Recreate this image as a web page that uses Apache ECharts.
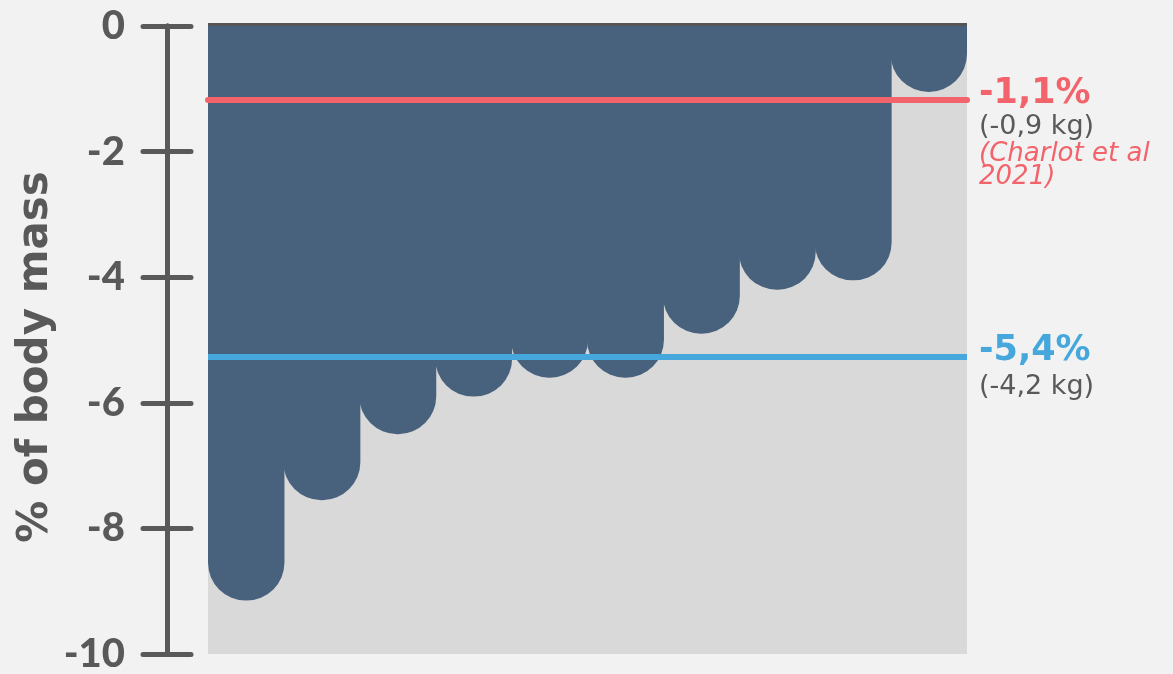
<!DOCTYPE html>
<html>
<head>
<meta charset="utf-8">
<script src="https://cdn.jsdelivr.net/npm/echarts@6/dist/echarts.min.js"></script>
<style>
html,body{margin:0;padding:0;background:#F2F2F2;}
#c{width:1173px;height:674px;}
</style>
</head>
<body>
<div id="c"></div>
<script>
const categories = ['1','2','3','4','5','6','7','8','9','10'];
const values = [-9.15, -7.55, -6.5, -5.9, -5.6, -5.6, -4.9, -4.2, -4.05, -1.05];
const yMin = -10, yMax = 0, yInterval = 2;
const refValues = [-1.18, -5.27];
const refMain = ['-1,1%', '-5,4%'];
const refKg = ['(-0,9 kg)', '(-4,2 kg)'];
const refSource = ['(Charlot et al\n2021)', ''];

const RED = '#F2636B', BLUE = '#45A7DB', GREY = '#595959', BAR = '#48627D';

const chart = echarts.init(document.getElementById('c'), null, {renderer: 'canvas'});
const yBase = {
  type: 'value', min: yMin, max: yMax, interval: yInterval, position: 'left',
  offset: 41, splitLine: {show: false},
  axisLine: {show: true, lineStyle: {color: GREY, width: 5}}
};
chart.setOption({
  animation: false,
  backgroundColor: '#F2F2F2',
  grid: {left: 208, right: 206, top: 26, bottom: 20, show: true, backgroundColor: '#D9D9D9', borderWidth: 0},
  xAxis: {
    type: 'category', data: categories, position: 'top',
    axisLine: {show: true, lineStyle: {color: '#555555', width: 6, cap: 'butt'}},
    axisTick: {show: false}, axisLabel: {show: false}
  },
  yAxis: [
    Object.assign({}, yBase, {
      name: '% of body mass', nameLocation: 'middle', nameGap: 110, nameRotate: 90,
      nameMoveOverlap: false,
      nameTextStyle: {fontFamily: 'DejaVu Sans', fontWeight: 'bold', fontSize: 42, color: GREY, padding: [0, 34, 0, 0]},
      axisTick: {show: true, inside: false, length: 24, lineStyle: {color: GREY, width: 5, cap: 'round'}},
      axisLabel: {margin: 42, fontFamily: 'Lato', fontWeight: 900, fontSize: 40, color: GREY}
    }),
    Object.assign({}, yBase, {
      axisTick: {show: true, inside: true, length: 24, lineStyle: {color: GREY, width: 5, cap: 'round'}},
      axisLabel: {show: false}
    })
  ],
  series: [{
    type: 'bar', data: values, barWidth: 77, barGap: '-100%',
    itemStyle: {color: BAR, borderWidth: 0, borderRadius: [0, 0, 38, 38]},
    markLine: {
      silent: true, symbol: 'none',
      label: {show: false},
      data: [
        {yAxis: refValues[0], lineStyle: {color: RED, width: 6, type: 'solid', cap: 'round'}},
        {yAxis: refValues[1], lineStyle: {color: BLUE, width: 6, type: 'solid'}}
      ]
    }
  }]
});

const rect = chart.getModel().getComponent('grid').coordinateSystem.getRect();
const xText = rect.x + rect.width + 12;
const colors = [RED, BLUE];
const kgLH = [32, 38];
const graphics = refValues.map((v, i) => {
  const yPix = chart.convertToPixel({yAxisIndex: 0}, v);
  let txt = '{a|' + refMain[i] + '}\n{b|' + refKg[i] + '}';
  if (refSource[i]) {
    txt += refSource[i].split('\n').map(s => '\n{c|' + s + '}').join('');
  }
  return {
    type: 'text', x: xText, y: yPix - 24, z: 100,
    style: {
      text: txt, verticalAlign: 'top', align: 'left',
      rich: {
        a: {fontFamily: 'DejaVu Sans', fontWeight: 'bold', fontSize: 35, lineHeight: 35, fill: colors[i]},
        b: {fontFamily: 'DejaVu Sans', fontSize: 27, lineHeight: kgLH[i], fill: GREY},
        c: {fontFamily: 'DejaVu Sans', fontStyle: 'italic', fontSize: 26, lineHeight: 23, fill: RED}
      }
    }
  };
});
chart.setOption({graphic: graphics});
</script>
</body>
</html>
